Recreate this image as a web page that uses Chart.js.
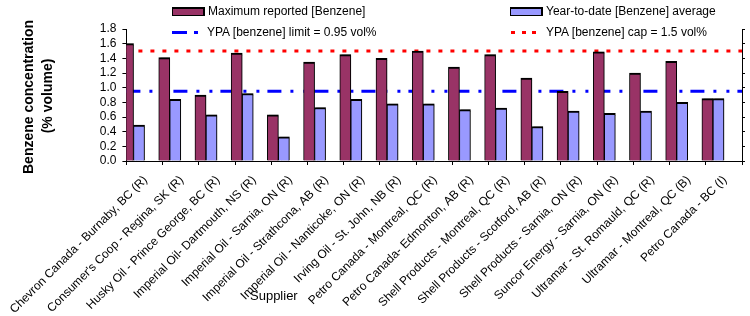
<!DOCTYPE html>
<html>
<head>
<meta charset="utf-8">
<script src="https://cdn.jsdelivr.net/npm/chart.js@4/dist/chart.umd.min.js"></script>
<style>
  html, body { margin: 0; padding: 0; background: #fff; }
  #wrap { position: relative; width: 750px; height: 316px; overflow: hidden; font-family: "Liberation Sans", Arial, sans-serif; color: #000; }
  canvas { position: absolute; left: 0; top: 0; }
  .t { position: absolute; white-space: nowrap; font-size: 12px; line-height: 14px; }
  .box { position: absolute; width: 30px; height: 6px; border: 1px solid #000; border-top-width: 2px; border-right-width: 2px; }
  .seg { position: absolute; height: 3px; }
  .rot { position: absolute; white-space: nowrap; font-weight: bold; font-size: 14px; line-height: 16px; transform: translate(-50%, -50%) rotate(-90deg); }
</style>
</head>
<body>
<div id="wrap">
  <canvas id="c" width="750" height="316"></canvas>

  <div class="box" style="left:172px;top:7px;background:#993366"></div>
  <div class="t" style="left:208px;top:4px">Maximum reported [Benzene]</div>
  <div class="box" style="left:510px;top:7px;background:#9999FF"></div>
  <div class="t" style="left:546px;top:4px">Year-to-date [Benzene] average</div>

  <div class="seg" style="left:172px;top:31px;width:15px;background:#0000FF"></div>
  <div class="seg" style="left:194px;top:31px;width:4px;background:#0000FF"></div>
  <div class="t" style="left:207px;top:25px">YPA [benzene] limit = 0.95 vol%</div>
  <div class="seg" style="left:511px;top:31px;width:4px;background:#FF0000"></div>
  <div class="seg" style="left:522px;top:31px;width:4px;background:#FF0000"></div>
  <div class="seg" style="left:532px;top:31px;width:4px;background:#FF0000"></div>
  <div class="t" style="left:546px;top:25px">YPA [benzene] cap = 1.5 vol%</div>

  <div class="rot" style="left:28px;top:97px">Benzene concentration</div>
  <div class="rot" style="left:47px;top:96px">(% volume)</div>
  <div class="t" style="left:250px;top:288px;font-size:13px;line-height:16px">Supplier</div>
</div>
<script>
const categories = [
  "Chevron Canada - Burnaby, BC (R)",
  "Consumer's Coop - Regina, SK (R)",
  "Husky Oil - Prince George, BC (R)",
  "Imperial Oil- Dartmouth, NS (R)",
  "Imperial Oil - Sarnia, ON (R)",
  "Imperial Oil - Strathcona, AB (R)",
  "Imperial Oil - Nanticoke, ON (R)",
  "Irving Oil - St. John, NB (R)",
  "Petro Canada - Montreal, QC (R)",
  "Petro Canada- Edmonton, AB (R)",
  "Shell Products - Montreal, QC (R)",
  "Shell Products - Scotford, AB (R)",
  "Shell Products - Sarnia, ON (R)",
  "Suncor Energy - Sarnia, ON (R)",
  "Ultramar - St. Romauld, QC (R)",
  "Ultramar - Montreal, QC (B)",
  "Petro Canada - BC (I)"
];
const maxReported = [1.60, 1.41, 0.90, 1.47, 0.63, 1.35, 1.45, 1.40, 1.50, 1.28, 1.45, 1.13, 0.95, 1.49, 1.20, 1.36, 0.85];
const ytdAverage  = [0.49, 0.84, 0.63, 0.92, 0.33, 0.73, 0.84, 0.78, 0.78, 0.70, 0.72, 0.47, 0.68, 0.65, 0.68, 0.80, 0.85];
const limitValue = 0.95;
const capValue = 1.5;
const yTickLabels = ["0.0","0.2","0.4","0.6","0.8","1.0","1.2","1.4","1.6","1.8"];

const FONT = "'Liberation Sans', Arial, sans-serif";

const barShadow = {
  id: 'barShadow',
  beforeDatasetDraw(chart, args) {
    if (args.meta.type === 'bar') {
      const ctx = chart.ctx;
      ctx.save();
      ctx.shadowColor = 'rgba(0,0,0,0.35)';
      ctx.shadowOffsetX = 2;
      ctx.shadowOffsetY = 0;
      ctx.shadowBlur = 0;
    }
  },
  afterDatasetDraw(chart, args) {
    if (args.meta.type === 'bar') chart.ctx.restore();
  }
};

new Chart(document.getElementById('c'), {
  type: 'bar',
  data: {
    labels: categories,
    datasets: [
      {
        type: 'bar', label: 'Maximum reported [Benzene]', data: maxReported,
        backgroundColor: '#993366', borderColor: '#000', borderWidth: {top: 2, left: 1, right: 1, bottom: 0},
        barThickness: 11, order: 1, xAxisID: 'x', yAxisID: 'y'
      },
      {
        type: 'bar', label: 'Year-to-date [Benzene] average', data: ytdAverage,
        backgroundColor: '#9999FF', borderColor: '#000', borderWidth: {top: 2, left: 1, right: 1, bottom: 0},
        barThickness: 11, order: 1, xAxisID: 'x', yAxisID: 'y'
      },
      {
        type: 'line', label: 'YPA [benzene] limit = 0.95 vol%',
        data: [{x: 0, y: limitValue}, {x: 1, y: limitValue}],
        borderColor: '#0000FF', borderWidth: 3, borderDash: [14, 9, 3, 10, 3, 8], borderCapStyle: 'butt',
        pointRadius: 0, fill: false, order: 5, xAxisID: 'x2', yAxisID: 'y'
      },
      {
        type: 'line', label: 'YPA [benzene] cap = 1.5 vol%',
        data: [{x: 0, y: capValue}, {x: 1, y: capValue}],
        borderColor: '#FF0000', borderWidth: 3, borderDash: [4, 8], borderCapStyle: 'butt',
        pointRadius: 0, fill: false, order: 5, xAxisID: 'x2', yAxisID: 'y'
      }
    ]
  },
  options: {
    responsive: false,
    animation: false,
    devicePixelRatio: 1,
    layout: { padding: { top: 29, left: 0, right: 4, bottom: 0 } },
    plugins: { legend: { display: false }, tooltip: { enabled: false } },
    scales: {
      x: {
        type: 'category', position: 'bottom', offset: true,
        grid: { display: true, offset: true, drawOnChartArea: false, drawTicks: true, tickLength: 4, color: '#000' },
        border: { display: true, color: '#000', width: 1 },
        ticks: { autoSkip: false, minRotation: 45, maxRotation: 45, padding: 8, labelOffset: 1, color: '#000', font: { family: FONT, size: 12 } },
        afterFit: s => { s.height = 155; }
      },
      x2: { type: 'linear', display: false, min: 0, max: 1, offset: false },
      y: {
        type: 'linear', position: 'left', min: 0, max: 1.8,
        grid: { display: true, drawOnChartArea: false, drawTicks: true, tickLength: 4, color: '#000' },
        border: { display: true, color: '#000', width: 1 },
        ticks: { stepSize: 0.2, autoSkip: false, padding: 6, color: '#000', font: { family: FONT, size: 12 },
          callback: (v, i) => yTickLabels[i] },
        afterFit: s => { s.width = 109; }
      },
      y2: {
        type: 'linear', position: 'right', min: 0, max: 1.8,
        grid: { display: true, drawOnChartArea: false, drawTicks: true, tickLength: 3, color: '#000' },
        border: { display: true, color: '#000', width: 1 },
        ticks: { stepSize: 0.2, autoSkip: false, display: false },
        afterFit: s => { s.width = 4; }
      }
    }
  },
  plugins: [barShadow]
});
</script>
</body>
</html>
